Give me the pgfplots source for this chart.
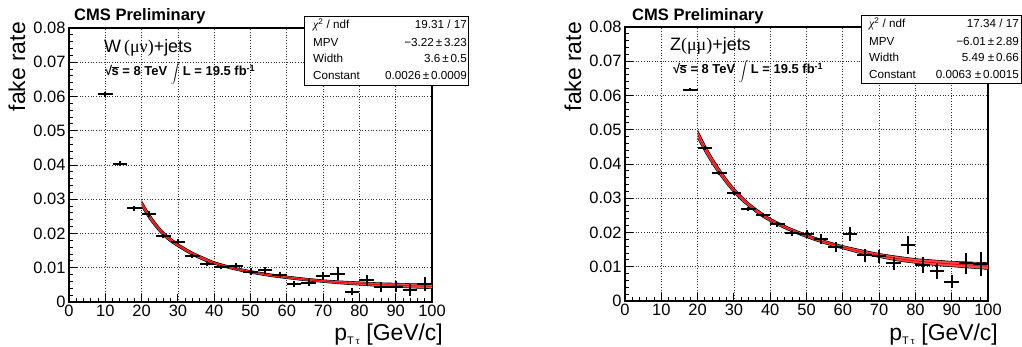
\documentclass[border=0pt]{standalone}
\usepackage{fontspec}
\setmainfont{Liberation Sans}
\newfontfamily\serif{Liberation Serif}
\usepackage{pgfplots}
\pgfplotsset{compat=1.18}
\usepackage{pgfplotstable}

\pgfplotstableread{
x y ey
10 0.0606 0.0008
14 0.0404 0.0007
18 0.0273 0.0006
22 0.0257 0.0008
26 0.0192 0.0006
30 0.0176 0.0007
34 0.0134 0.0006
38 0.0112 0.0007
42 0.0103 0.0006
46 0.0105 0.0008
50 0.0088 0.0010
54 0.0092 0.0010
58 0.0079 0.0010
62 0.0052 0.0008
66 0.0056 0.0010
70 0.0076 0.0013
74 0.0083 0.0018
78 0.0030 0.0010
82 0.0064 0.0016
86 0.0043 0.0015
90 0.0045 0.0016
94 0.0035 0.0018
98 0.0052 0.0020
}\wdata

\pgfplotstableread{
x c lo hi
20 0.0287 0.0278 0.0296
22 0.0252 0.0244 0.0260
24 0.0223 0.0216 0.0230
26 0.0199 0.0193 0.0205
28 0.0181 0.0175 0.0187
30 0.0166 0.0161 0.0171
32 0.0153 0.0148 0.0158
34 0.0141 0.0136 0.0146
36 0.0131 0.0126 0.0136
38 0.0122 0.0117 0.0127
40 0.0114 0.0110 0.0118
45 0.0099 0.0095 0.0103
50 0.0088 0.0084 0.0092
55 0.0079 0.0075 0.0083
60 0.0072 0.0068 0.0076
65 0.0066 0.0062 0.0070
70 0.0061 0.0057 0.0065
75 0.0057 0.00525 0.00615
80 0.0054 0.0049 0.0059
85 0.0051 0.00455 0.00565
90 0.0049 0.0043 0.0055
95 0.0047 0.00405 0.00535
100 0.0046 0.0039 0.0053
}\wfit

% band outline: upper edge forward, lower edge back
\pgfplotstableread{
x y
20 0.0296
22 0.0260
24 0.0230
26 0.0205
28 0.0187
30 0.0171
32 0.0158
34 0.0146
36 0.0136
38 0.0127
40 0.0118
45 0.0103
50 0.0092
55 0.0083
60 0.0076
65 0.0070
70 0.0065
75 0.00615
80 0.0059
85 0.00565
90 0.0055
95 0.00535
100 0.0053
100 0.0039
95 0.00405
90 0.0043
85 0.00455
80 0.0049
75 0.00525
70 0.0057
65 0.0062
60 0.0068
55 0.0075
50 0.0084
45 0.0095
40 0.0110
38 0.0117
36 0.0126
34 0.0136
32 0.0148
30 0.0161
28 0.0175
26 0.0193
24 0.0216
22 0.0244
20 0.0278
}\wband

\pgfplotstableread{
x y ey
18 0.0617 0.0005
22 0.0448 0.0006
26 0.0375 0.0006
30 0.0316 0.0006
34 0.0269 0.0006
38 0.0251 0.0007
42 0.0224 0.0008
46 0.0199 0.0009
50 0.0195 0.0012
54 0.0181 0.0014
58 0.0158 0.0015
62 0.0195 0.0021
66 0.0134 0.0019
70 0.0131 0.0019
74 0.0110 0.0019
78 0.0163 0.0027
82 0.0105 0.0023
86 0.0088 0.0024
90 0.0056 0.0019
94 0.0110 0.0031
98 0.0108 0.0035
}\zdata

\pgfplotstableread{
x c lo hi
20 0.0487 0.0475 0.0499
22 0.0446 0.0435 0.0457
24 0.0410 0.0400 0.0420
26 0.0378 0.0369 0.0387
28 0.0349 0.0341 0.0357
30 0.0323 0.0316 0.0330
32 0.0301 0.0294 0.0308
34 0.0282 0.0276 0.0288
36 0.0265 0.0259 0.0271
38 0.0250 0.0244 0.0256
40 0.0237 0.0232 0.0242
45 0.0211 0.0206 0.0216
50 0.0190 0.0185 0.0195
55 0.0172 0.0167 0.0177
60 0.0157 0.0152 0.0162
65 0.0144 0.0138 0.0150
70 0.0133 0.0127 0.0139
75 0.0124 0.0117 0.0131
80 0.0117 0.0110 0.0124
85 0.0112 0.0104 0.0120
90 0.0108 0.0100 0.0116
95 0.0105 0.0096 0.0114
100 0.0102 0.0092 0.0112
}\zfit

\pgfplotstableread{
x y
20 0.0499
22 0.0457
24 0.0420
26 0.0387
28 0.0357
30 0.0330
32 0.0308
34 0.0288
36 0.0271
38 0.0256
40 0.0242
45 0.0216
50 0.0195
55 0.0177
60 0.0162
65 0.0150
70 0.0139
75 0.0131
80 0.0124
85 0.0120
90 0.0116
95 0.0114
100 0.0112
100 0.0092
95 0.0096
90 0.0100
85 0.0104
80 0.0110
75 0.0117
70 0.0127
65 0.0138
60 0.0152
55 0.0167
50 0.0185
45 0.0206
40 0.0232
38 0.0244
36 0.0259
34 0.0276
32 0.0294
30 0.0316
28 0.0341
26 0.0369
24 0.0400
22 0.0435
20 0.0475
}\zband

\pgfplotsset{
  cmsaxis/.style={
    scale only axis, width=363bp, height=274bp,
    anchor=south west,
    xmin=0, xmax=100, ymin=0, ymax=0.08,
    scaled x ticks=false, scaled y ticks=false,
    xtick={0,10,20,30,40,50,60,70,80,90,100},
    xticklabels={0,10,20,30,40,50,60,70,80,90,100},
    ytick={0,0.01,0.02,0.03,0.04,0.05,0.06,0.07,0.08},
    yticklabels={0,0.01,0.02,0.03,0.04,0.05,0.06,0.07,0.08},
    minor x tick num=4, minor y tick num=4,
    tick pos=left, tick align=inside,
    major tick length=8bp, minor tick length=4bp,
    every tick/.append style={black, line width=0.9bp},
    axis line style={line width=1.1bp},
    grid=major,
    major grid style={black!80, line width=0.7bp, dotted},
    tick label style={font=\fontsize{16.5}{16.5}\selectfont},
  },
  pts/.style={black, only marks, mark=*, mark size=0.2bp,
    error bars/.cd, x dir=both, x fixed=2, y dir=both, y explicit,
    error mark=none, error bar style={line width=2bp, black}},
}

\newcommand{\statrow}[4]{%
  \node[anchor=base west, inner sep=0, font=\fontsize{11.7}{11.7}\selectfont] at (#1) {#3};
  \node[anchor=base east, inner sep=0, font=\fontsize{11.7}{11.7}\selectfont] at (#2) {#4};}
\newcommand{\lumi}{√\kern-0.6bp$\overline{\hbox{s}}$ = 8 TeV {\fontsize{8.5}{8.5}\selectfont$\displaystyle\int$}\,L = 19.5 fb\textsuperscript{-1}}
\newcommand{\ptlab}{p\raisebox{-4.5bp}{\fontsize{11}{11}\selectfont T\,{\serif τ}} [GeV/c]}

\begin{document}
\begin{tikzpicture}
\path[use as bounding box] (0bp,0bp) rectangle (1022bp,347bp);

% ---------------- left panel ----------------
\begin{axis}[cmsaxis, at={(69bp,45bp)}]
  \addplot[fill=red!70!white, draw=none] table[x=x, y=y] {\wband};
  \addplot[black, line width=0.6bp, smooth] table[x=x, y=hi] {\wfit};
  \addplot[black, line width=0.6bp, smooth] table[x=x, y=lo] {\wfit};
  \addplot[red, line width=0.9bp, smooth] table[x=x, y=c] {\wfit};
  \addplot[pts] table[x=x, y=y, y error=ey] {\wdata};
\end{axis}

% ---------------- right panel ----------------
\begin{axis}[cmsaxis, at={(625bp,46bp)}]
  \addplot[fill=red!70!white, draw=none] table[x=x, y=y] {\zband};
  \addplot[black, line width=0.6bp, smooth] table[x=x, y=hi] {\zfit};
  \addplot[black, line width=0.6bp, smooth] table[x=x, y=lo] {\zfit};
  \addplot[red, line width=0.9bp, smooth] table[x=x, y=c] {\zfit};
  \addplot[pts] table[x=x, y=y, y error=ey] {\zdata};
\end{axis}

% axis titles
\node[rotate=90, anchor=east, inner sep=0, font=\fontsize{23}{23}\selectfont] at (17bp,325bp) {fake rate};
\node[rotate=90, anchor=east, inner sep=0, font=\fontsize{23}{23}\selectfont] at (573bp,325bp) {fake rate};
\node[anchor=base east, inner sep=0, font=\fontsize{23}{23}\selectfont] at (443bp,7bp) {\ptlab};
\node[anchor=base east, inner sep=0, font=\fontsize{23}{23}\selectfont] at (998bp,7bp) {\ptlab};

% CMS labels
\node[anchor=base west, inner sep=0, font=\fontsize{16.6}{16.6}\selectfont\bfseries] at (74bp,326bp) {CMS Preliminary};
\node[anchor=base west, inner sep=0, font=\fontsize{16.6}{16.6}\selectfont\bfseries] at (632bp,326bp) {CMS Preliminary};

\node[anchor=base west, inner sep=0, font=\fontsize{18}{18}\selectfont] at (104bp,294bp) {W\,{\serif(μν)}+jets};
\node[anchor=base west, inner sep=0, font=\fontsize{18}{18}\selectfont] at (670bp,296bp) {Z{\serif(μμ)}+jets};

\node[anchor=base west, inner sep=0, font=\fontsize{13}{13}\selectfont\bfseries] at (105bp,271bp) {\lumi};
\node[anchor=base west, inner sep=0, font=\fontsize{13}{13}\selectfont\bfseries] at (673bp,273bp) {\lumi};

% stat boxes
\draw[fill=white, line width=0.9bp] (304bp,262bp) rectangle (468bp,331bp);
\draw[line width=1.2bp] (305bp,261.6bp) -- (468.6bp,261.6bp) -- (468.6bp,330bp);
\statrow{313bp,318bp}{467bp,318bp}{{\serif\itshape χ}\textsuperscript{2} / ndf}{19.31 / 17}
\statrow{313bp,300bp}{467bp,300bp}{MPV}{−3.22\,±\,3.23}
\statrow{313bp,284bp}{467bp,284bp}{Width}{3.6\,±\,0.5}
\statrow{313bp,267bp}{467bp,267bp}{Constant}{0.0026\,±\,0.0009}

\draw[fill=white, line width=0.9bp] (861bp,264bp) rectangle (1021bp,332bp);
\draw[line width=1.2bp] (862bp,263.6bp) -- (1021.4bp,263.6bp);
\statrow{869bp,319bp}{1019bp,319bp}{{\serif\itshape χ}\textsuperscript{2} / ndf}{17.34 / 17}
\statrow{869bp,301bp}{1019bp,301bp}{MPV}{−6.01\,±\,2.89}
\statrow{869bp,285bp}{1019bp,285bp}{Width}{5.49 ±\,0.66}
\statrow{869bp,268bp}{1019bp,268bp}{Constant}{0.0063 ±\,0.0015}
\end{tikzpicture}
\end{document}
